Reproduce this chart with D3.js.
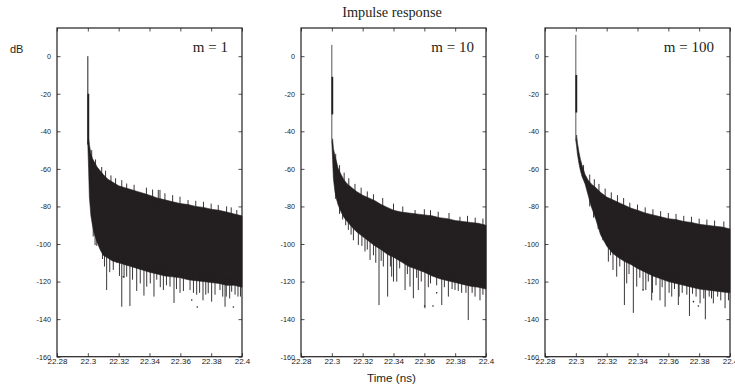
<!DOCTYPE html>
<html>
<head>
<meta charset="utf-8">
<script src="https://cdn.jsdelivr.net/npm/d3@7/dist/d3.min.js"></script>
<style>
  html, body { margin: 0; padding: 0; background: #fff; }
  svg { display: block; }
  .tick text { font-family: "Liberation Sans", Arial, sans-serif; font-size: 8px; fill: #222; }
  .yax .tick text { font-size: 7.2px; }
  .tick line { stroke: #222; stroke-width: 0.8; }
</style>
</head>
<body>
<svg id="chart" width="735" height="391"></svg>
<script>
// ---------------- data ----------------
const panelLabels = ["m = 1", "m = 10", "m = 100"];
const xTicks = [22.28, 22.3, 22.32, 22.34, 22.36, 22.38, 22.4];
const xTickLabels = ["22.28", "22.3", "22.32", "22.34", "22.36", "22.38", "22.4"];
const yTicks = [-160, -140, -120, -100, -80, -60, -40, -20, 0];
const yTickLabels = ["-160", "-140", "-120", "-100", "-80", "-60", "-40", "-20", "0"];

// impulse at t = 22.3 : peak, start of thick part, end of thick part, end (dB)
const impulseTime = 22.3;
const impulsePeak = [0, 6, 11.3];
const impulseThickTop = [-20, -11, -10];
const impulseThickBottom = [-47, -31, -30];
const impulseBottom = [-47, -46, -45];

// time grid shared by the envelopes (ns)
const times = [22.3005, 22.301, 22.302, 22.303, 22.304, 22.306, 22.308, 22.31, 22.313, 22.316,
               22.32, 22.324, 22.328, 22.332, 22.336, 22.34, 22.345, 22.35, 22.355, 22.36,
               22.365, 22.37, 22.375, 22.38, 22.385, 22.39, 22.395, 22.4];

// upper edge of the dense trace (dB)
const upper1 = [-44, -47, -52, -54.5, -56, -59, -61, -63, -65.5, -67, -69, -70, -71, -72, -73, -74,
                -75.5, -76.5, -77.5, -78.5, -79, -80, -80.5, -81.5, -82, -83, -84, -85];
const upper2 = [-44, -49, -53, -56, -59.5, -63, -66, -68, -70, -72, -74, -75.5, -77, -79, -80.5, -82,
                -83, -83.5, -84, -84.5, -85, -86, -86.5, -87.5, -88, -88.5, -89, -90];
const upper3 = [-42, -46, -51, -55, -58, -63, -66, -68, -70, -72.5, -75, -76.5, -78, -79.5, -81, -82,
                -83.5, -84.5, -85.5, -86.5, -87, -88, -88.5, -89.5, -90, -90.5, -91, -92];

// lower edge of the dense trace (dB)
const lower1 = [-60, -75, -85, -90, -94, -99, -103, -106, -107.5, -109, -110, -111, -112, -113, -114, -115,
                -116, -117, -117.5, -118, -119, -119.5, -120, -120.5, -121, -122, -122, -123];
const lower2 = [-55, -65, -72, -76, -79, -83, -86, -88, -91, -93.5, -96, -98.5, -101, -103, -105.5, -107,
                -109.5, -112, -113.5, -115, -117, -118.5, -119.5, -120.5, -121.5, -122.5, -123, -124];
const lower3 = [-48, -52, -57, -61, -64, -68, -74, -80, -87, -95, -101, -105, -107.5, -109.5, -111, -113,
                -115, -117, -118.5, -120, -121, -122, -123, -124, -124.5, -125, -125.5, -126];

// downward spikes below the trace: [time, dB]
const spikes1 = [[22.3035, -96], [22.3047, -100.6], [22.3058, -101], [22.3079, -102], [22.3095, -108],
                 [22.3108, -112], [22.3122, -124.5], [22.3142, -115], [22.3165, -113.8], [22.3187, -110],
                 [22.3205, -117], [22.322, -133.4], [22.3235, -118], [22.3252, -117.4], [22.3273, -133],
                 [22.329, -119], [22.3317, -125], [22.334, -121], [22.3364, -127.5], [22.3382, -122.7],
                 [22.3405, -121], [22.3429, -128], [22.3447, -119], [22.347, -123], [22.349, -124.5],
                 [22.351, -122], [22.3533, -122.7], [22.3559, -131.4], [22.3575, -124], [22.3598, -126],
                 [22.362, -125], [22.3663, -124.5], [22.3685, -126], [22.3706, -127], [22.3725, -126],
                 [22.3747, -130], [22.3765, -127], [22.3781, -126.2], [22.3803, -130.7], [22.3825, -127],
                 [22.3857, -124.5], [22.3875, -128], [22.389, -133.4], [22.3898, -128], [22.392, -129],
                 [22.3933, -125.4], [22.3955, -127], [22.3974, -128], [22.399, -128]];
const spikes2 = [[22.3025, -76], [22.305, -84], [22.307, -87], [22.309, -90], [22.3107, -92.5],
                 [22.3125, -95], [22.314, -98], [22.3172, -100.5], [22.3195, -101], [22.3215, -104],
                 [22.323, -103], [22.3248, -108.5], [22.327, -106], [22.3285, -110], [22.3306, -132.5],
                 [22.332, -109], [22.3334, -112], [22.3362, -128], [22.338, -112], [22.3388, -117.4],
                 [22.34, -120], [22.3421, -120], [22.344, -113], [22.3475, -124.5], [22.349, -116],
                 [22.3507, -122.7], [22.3529, -128.9], [22.355, -118], [22.3561, -124.5], [22.358, -120],
                 [22.3604, -134.2], [22.3626, -123], [22.364, -121], [22.368, -122], [22.3713, -132.5],
                 [22.373, -123], [22.3756, -128], [22.378, -124], [22.3799, -124.5], [22.382, -125],
                 [22.3842, -126], [22.387, -126], [22.3885, -140.5], [22.391, -126], [22.3929, -128],
                 [22.3961, -130], [22.398, -127]];
const spikes3 = [[22.309, -80], [22.3115, -86], [22.3145, -92], [22.3175, -98], [22.3211, -109.4],
                 [22.3225, -106], [22.3241, -113.8], [22.3265, -117.4], [22.3285, -112], [22.3315, -132.5],
                 [22.333, -121], [22.3345, -116], [22.3373, -136.7], [22.3395, -122.7], [22.3415, -118],
                 [22.3436, -124.5], [22.3454, -124.5], [22.347, -120], [22.3492, -130], [22.3497, -126],
                 [22.352, -122], [22.3546, -130], [22.356, -123], [22.3579, -133.4], [22.3605, -126],
                 [22.3622, -128], [22.364, -124], [22.3665, -132.5], [22.367, -128], [22.369, -126],
                 [22.372, -127], [22.3737, -138.3], [22.3757, -126.5], [22.378, -128], [22.3806, -131.6],
                 [22.383, -129], [22.384, -140.1], [22.3865, -128], [22.388, -129], [22.3892, -131.6],
                 [22.392, -128], [22.394, -130], [22.3968, -134.2], [22.399, -130]];

// upward spikes above the trace: [time, dB]
const upSpikes1 = [[22.3025, -50], [22.305, -55], [22.309, -59], [22.3115, -61], [22.315, -63.5],
                   [22.318, -65], [22.322, -66], [22.3252, -67.8], [22.33, -68.5], [22.338, -70],
                   [22.342, -71], [22.3457, -71.2], [22.3468, -71.2], [22.35, -73], [22.355, -74],
                   [22.3598, -74.8], [22.365, -76.6], [22.37, -77], [22.375, -77.5], [22.38, -78.5],
                   [22.3846, -79.2], [22.39, -80], [22.393, -80.5], [22.3966, -81.9]];
const upSpikes2 = [[22.3025, -52], [22.305, -58], [22.308, -62], [22.311, -65], [22.315, -68],
                   [22.319, -70], [22.323, -72], [22.327, -73.5], [22.333, -75.5], [22.34, -78.5],
                   [22.346, -80], [22.354, -81.9], [22.36, -81.5], [22.364, -82], [22.369, -82.8],
                   [22.376, -83.5], [22.3831, -85.5], [22.388, -85], [22.393, -86], [22.398, -86.5]];
const upSpikes3 = [[22.305, -58], [22.309, -63], [22.312, -65.5], [22.315, -68], [22.319, -70.5],
                   [22.323, -72.5], [22.327, -74], [22.331, -75.5], [22.335, -78], [22.34, -79],
                   [22.345, -80.5], [22.35, -81.5], [22.355, -82.5], [22.36, -83.5], [22.365, -84],
                   [22.37, -85], [22.375, -85.5], [22.38, -86.5], [22.385, -87], [22.39, -87.5],
                   [22.396, -88]];

// isolated points below the trace: [time, dB]
const dots1 = [[22.323, -117.5], [22.3674, -129.8], [22.371, -133.5], [22.3944, -133.5]];
const dots2 = [[22.3602, -133], [22.3656, -133], [22.368, -126]];
const dots3 = [[22.3436, -124.5], [22.3763, -130.7], [22.3795, -133]];

const uppers = [upper1, upper2, upper3];
const lowers = [lower1, lower2, lower3];
const spikes = [spikes1, spikes2, spikes3];
const upSpikes = [upSpikes1, upSpikes2, upSpikes3];
const dots = [dots1, dots2, dots3];

// ---------------- layout ----------------
const svg = d3.select("#chart");
const ink = "#231f20";
const panelW = 185, panelStep = 244, panelLeft0 = 57;
const plotTop = 28, plotBottom = 356.7;
const labelEndOffset = [14, 12, 16];

function nearestIndex(t) {
  let best = 0;
  times.forEach((v, i) => { if (Math.abs(v - t) < Math.abs(times[best] - t)) best = i; });
  return best;
}

panelLabels.forEach((label, p) => {
  const left = panelLeft0 + p * panelStep, right = left + panelW;
  const x = d3.scaleLinear().domain([22.28, 22.4]).range([left, right]);
  const y = d3.scaleLinear().domain([-160, 15]).range([plotBottom, plotTop]);
  const g = svg.append("g");

  // dense trace body
  const rows = times.map((t, i) => ({ t, hi: uppers[p][i], lo: lowers[p][i] }));
  const area = d3.area().x(d => x(d.t)).y0(d => y(d.lo)).y1(d => y(d.hi));
  g.append("path").datum([{ t: impulseTime, hi: impulseBottom[p], lo: impulseBottom[p] }, ...rows])
    .attr("d", area).attr("fill", ink).attr("stroke", ink).attr("stroke-width", 0.6);

  // spikes downward
  g.selectAll(".dn").data(spikes[p]).join("line")
    .attr("x1", d => x(d[0])).attr("x2", d => x(d[0]))
    .attr("y1", d => y(lowers[p][nearestIndex(d[0])] + 4)).attr("y2", d => y(d[1]))
    .attr("stroke", ink).attr("stroke-width", 0.9);

  // spikes upward
  g.selectAll(".up").data(upSpikes[p]).join("line")
    .attr("x1", d => x(d[0])).attr("x2", d => x(d[0]))
    .attr("y1", d => y(uppers[p][nearestIndex(d[0])] - 4)).attr("y2", d => y(d[1]))
    .attr("stroke", ink).attr("stroke-width", 0.9);

  // dots
  g.selectAll(".dot").data(dots[p]).join("circle")
    .attr("cx", d => x(d[0])).attr("cy", d => y(d[1])).attr("r", 0.8).attr("fill", ink);

  // impulse
  g.append("line").attr("x1", x(impulseTime)).attr("x2", x(impulseTime))
    .attr("y1", y(impulsePeak[p])).attr("y2", y(impulseBottom[p]))
    .attr("stroke", p === 0 ? ink : "#555").attr("stroke-width", 1);
  g.append("line").attr("x1", x(impulseTime) + 0.5).attr("x2", x(impulseTime) + 0.5)
    .attr("y1", y(impulseThickTop[p])).attr("y2", y(impulseThickBottom[p]))
    .attr("stroke", ink).attr("stroke-width", 1.8);

  // axes (inward ticks on all four sides)
  g.append("g").attr("class", "yax").attr("transform", `translate(${left},0)`)
    .call(d3.axisLeft(y).tickValues(yTicks).tickSize(-3.5).tickPadding(6)
      .tickFormat((d, i) => yTickLabels[i]))
    .call(a => a.select(".domain").remove());
  g.append("g").attr("transform", `translate(${right},0)`)
    .call(d3.axisRight(y).tickValues(yTicks).tickSize(-3.5).tickFormat(""))
    .call(a => a.select(".domain").remove());
  g.append("g").attr("transform", `translate(0,${plotBottom})`)
    .call(d3.axisBottom(x).tickValues(xTicks).tickSize(-3.5).tickPadding(2)
      .tickFormat((d, i) => xTickLabels[i]))
    .call(a => a.select(".domain").remove());
  g.append("g").attr("transform", `translate(0,${plotTop})`)
    .call(d3.axisTop(x).tickValues(xTicks).tickSize(-3.5).tickFormat(""))
    .call(a => a.select(".domain").remove());

  // frame
  g.append("rect").attr("x", left).attr("y", plotTop).attr("width", panelW).attr("height", plotBottom - plotTop)
    .attr("fill", "none").attr("stroke", ink).attr("stroke-width", 1.2);

  // panel label
  g.append("text").attr("x", right - labelEndOffset[p]).attr("y", 51.7)
    .attr("text-anchor", "end")
    .attr("font-family", "'Liberation Serif', 'Times New Roman', serif").attr("font-size", 15)
    .attr("fill", ink).text(label);
});

// titles
svg.append("text").attr("x", 392).attr("y", 16.7).attr("text-anchor", "middle")
  .attr("font-family", "'Liberation Serif', 'Times New Roman', serif").attr("font-size", 14.3)
  .attr("fill", ink).text("Impulse response");
svg.append("text").attr("x", 10).attr("y", 52.7)
  .attr("font-family", "'Liberation Sans', Arial, sans-serif").attr("font-size", 11)
  .attr("fill", ink).text("dB");
svg.append("text").attr("x", 391.5).attr("y", 381.7).attr("text-anchor", "middle")
  .attr("font-family", "'Liberation Sans', Arial, sans-serif").attr("font-size", 11.7)
  .attr("fill", ink).text("Time (ns)");
</script>
</body>
</html>
